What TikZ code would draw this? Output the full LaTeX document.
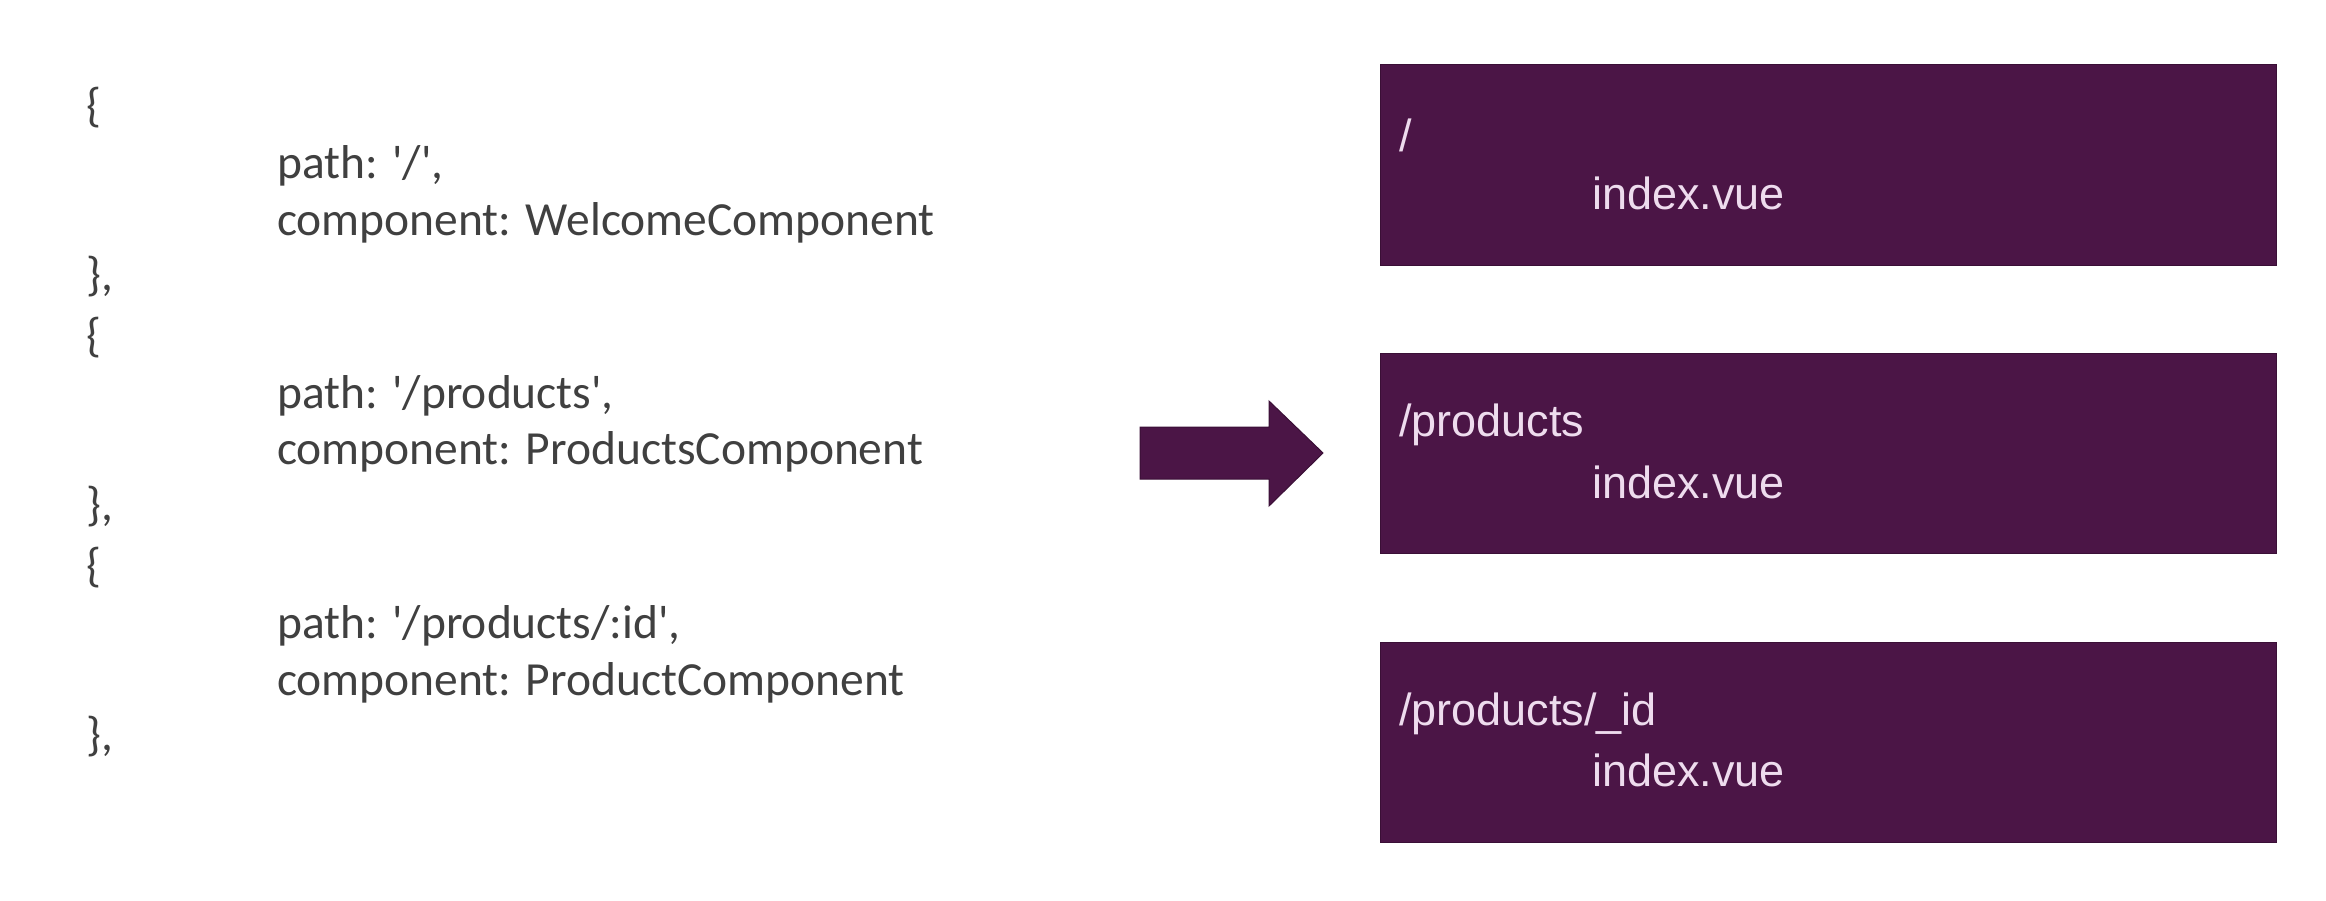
\documentclass[tikz,border=0pt]{standalone}
\usepackage{fontspec}
\setmainfont{Carlito}[Ligatures=TeXOff]
\newfontfamily\boxfont{Liberation Sans}
\definecolor{plum}{HTML}{4B1546}
\definecolor{plumedge}{HTML}{3A0F36}
\definecolor{boxtext}{HTML}{EEDCEE}
\definecolor{codetext}{HTML}{404040}
\begin{document}
\begin{tikzpicture}[x=1pt,y=-1pt,
  code/.style={anchor=west,inner sep=0pt,text=codetext,font=\fontsize{47.5}{57}\selectfont},
  route/.style={fill=plum,draw=plumedge,line width=1pt},
  rtext/.style={anchor=west,inner sep=0pt,text=boxtext,font=\boxfont\fontsize{45}{54}\selectfont}]
\useasboundingbox (0,0) rectangle (2326,900);
\fill[white] (0,0) rectangle (2326,900);
% code block
\node[code] (o1) at (86,108) {\{};
\node[code] (p1) at (277,166) {path: '/',};
\node[code] (c1) at (277,223) {component: WelcomeComponent};
\node[code] (e1) at (86,277) {\},};
\node[code] (o2) at (86,338) {\{};
\node[code] (p2) at (277,396) {path: '/products',};
\node[code] (c2) at (277,452) {component: ProductsComponent};
\node[code] (e2) at (86,507) {\},};
\node[code] (o3) at (86,568) {\{};
\node[code] (p3) at (277,626) {path: '/products/:id',};
\node[code] (c3) at (277,683) {component: ProductComponent};
\node[code] (e3) at (86,737) {\},};
% arrow
\filldraw[fill=plum,draw=plumedge,line width=1pt]
  (1140,427) -- (1269,427) -- (1269,401) -- (1323,453) -- (1269,506) -- (1269,479) -- (1140,479) -- cycle;
% route boxes
\draw[route] (1380,64) rectangle (2276,265);
\node[rtext] (r1) at (1399,135) {/};
\node[rtext] (i1) at (1592,193) {index.vue};
\draw[route] (1380,353) rectangle (2276,553);
\node[rtext] (r2) at (1399,425) {/products};
\node[rtext] (i2) at (1592,482) {index.vue};
\draw[route] (1380,642) rectangle (2276,842);
\node[rtext] (r3) at (1399,714) {/products/\_id};
\node[rtext] (i3) at (1592,770) {index.vue};
\end{tikzpicture}
\end{document}
